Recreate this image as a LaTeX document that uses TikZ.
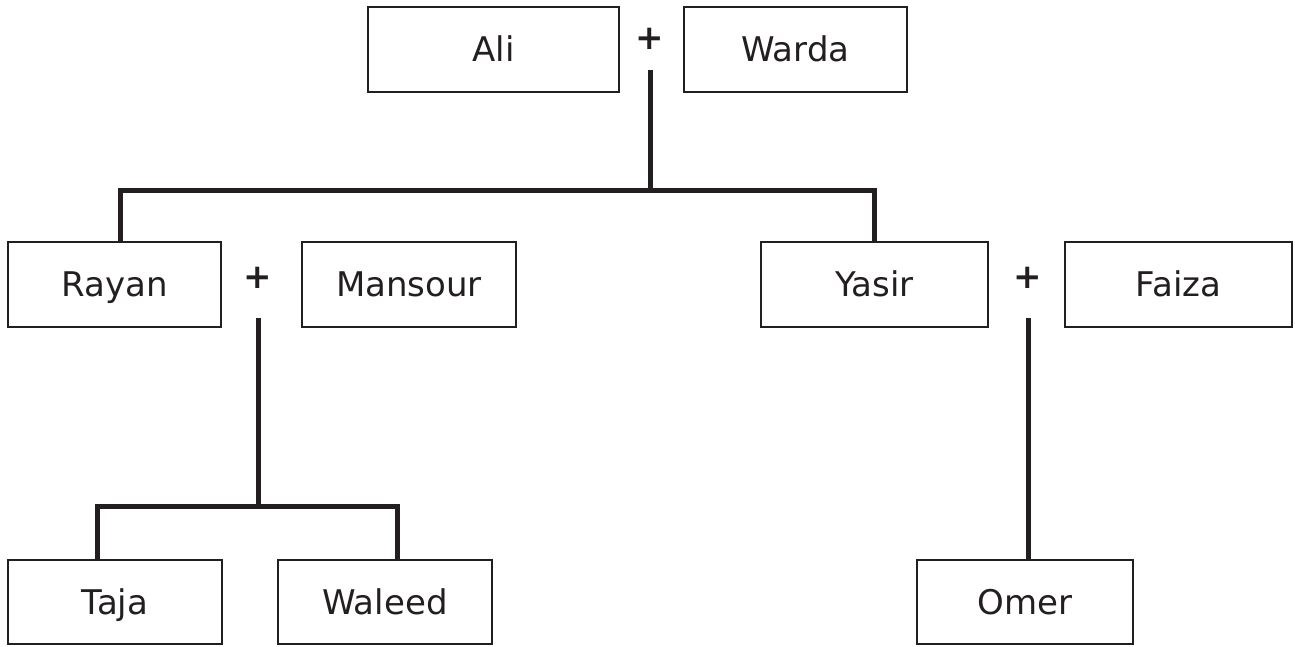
\documentclass[tikz,border=0pt]{standalone}
\usepackage{fontspec}
\setmainfont{DejaVu Sans}
\usetikzlibrary{positioning}
\definecolor{ink}{RGB}{35,31,32}

\begin{document}
\begin{tikzpicture}[x=1pt, y=-1pt,
    person/.style={draw=ink, rectangle, line width=2.4pt, minimum height=85pt, inner sep=0pt,
        text=ink, text height=24pt, text depth=0pt, font=\fontsize{34}{40}\selectfont},
    plus/.style={text=ink, inner sep=0pt, font=\fontsize{34}{40}\selectfont\bfseries},
    link/.style={draw=ink, line width=5pt}]
    \useasboundingbox (0,0) rectangle (1295,646);

    % First generation
    \node [person, minimum width=251pt] (ali) at (493.5,49.5) {Ali};
    \node [plus] (plusA) at (650,39) {+};
    \node [person, minimum width=223pt] (warda) at (795.5,49.5) {Warda};

    % Second generation
    \node [person, minimum width=213pt] (rayan) at (114.5,284.5) {Rayan};
    \node [plus] (plusB) at (258,278) {+};
    \node [person, minimum width=214pt] (mansour) at (409,284.5) {Mansour};
    \node [person, minimum width=227pt] (yasir) at (874.5,284.5) {Yasir};
    \node [plus] (plusC) at (1028,278) {+};
    \node [person, minimum width=227pt] (faiza) at (1178.5,284.5) {Faiza};

    % Third generation
    \node [person, minimum width=214pt, minimum height=84pt] (taja) at (115,602) {Taja};
    \node [person, minimum width=214pt, minimum height=84pt] (waleed) at (385,602) {Waleed};
    \node [person, minimum width=216pt, minimum height=84pt] (omer) at (1025,602) {Omer};

    % Lines of descent
    \coordinate (stemA) at (650,70);
    \coordinate (jA) at (650,190);
    \draw [link] (stemA) -- (jA);
    \draw [link] ([xshift=6pt]rayan.north) |- (jA) -| (yasir.north);

    \coordinate (stemB) at (258,318);
    \coordinate (jB) at (258,506);
    \draw [link] (stemB) -- (jB);
    \draw [link] ([xshift=-18pt]taja.north) |- (jB) -| ([xshift=12pt]waleed.north);

    \coordinate (stemC) at (1028,318);
    \draw [link] (stemC) -- ([xshift=3pt]omer.north);
\end{tikzpicture}
\end{document}
